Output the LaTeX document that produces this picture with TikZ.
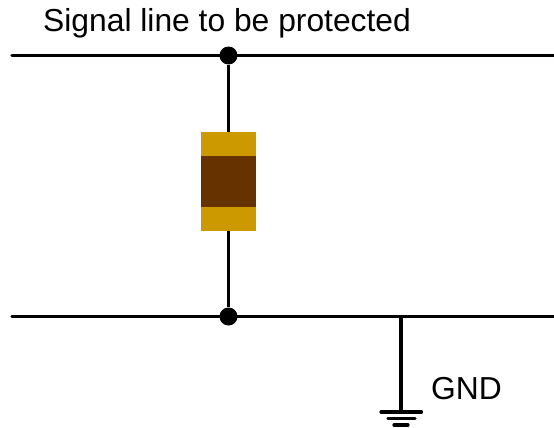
\documentclass[tikz,border=0pt]{standalone}
\usepackage{fontspec}
\setmainfont{Liberation Sans}
\begin{document}
\begin{tikzpicture}[x=1pt,y=-1pt,
  wire/.style={line width=3.2pt,black,line cap=round},
  gbar/.style={line width=3.2pt,black,line cap=round},
  joint/.style={circle,fill=black,inner sep=0pt,minimum size=18pt},
  goldbody/.style={fill=capgold,draw=none,inner sep=0pt,minimum width=55pt,minimum height=99pt},
  corebody/.style={fill=corebrown,draw=none,inner sep=0pt,minimum width=55pt,minimum height=51pt},
  lab/.style={inner sep=0pt,anchor=base west,font=\fontsize{31.8}{36}\selectfont}]
\definecolor{capgold}{RGB}{204,153,0}
\definecolor{corebrown}{RGB}{102,51,0}
\useasboundingbox (0,0) rectangle (554,428);
\coordinate (t1) at (12,55.5);
\coordinate (t2) at (556,55.5);
\coordinate (b1) at (12,316.5);
\coordinate (b2) at (556,316.5);
\coordinate (g0) at (401,316.5);
\coordinate (g1) at (401,412);
\coordinate (g1a) at (381,412);
\coordinate (g1b) at (421.5,412);
\coordinate (g2a) at (388,418.5);
\coordinate (g2b) at (415,418.5);
\coordinate (g3a) at (394,425);
\coordinate (g3b) at (408,425);
\draw[wire] (t1) -- (t2);
\draw[wire] (b1) -- (b2);
\node[joint] (jt) at (228.5,55.5) {};
\node[joint] (jb) at (228.5,316.5) {};
\node[goldbody] (body) at (228.5,181.5) {};
\node[corebody] (mid) at (228.5,181.5) {};
\draw[line width=3.2pt] (jt) -- (body);
\draw[line width=3.2pt] (body) -- (jb);
\draw[line width=3.2pt] (g0) -- (g1);
\draw[gbar] (g1a) -- (g1b);
\draw[gbar] (g2a) -- (g2b);
\draw[gbar] (g3a) -- (g3b);
\node[lab] (sig) at (43,32) {Signal line to be protected};
\node[lab] (gnd) at (431,399) {GND};
\end{tikzpicture}
\end{document}
